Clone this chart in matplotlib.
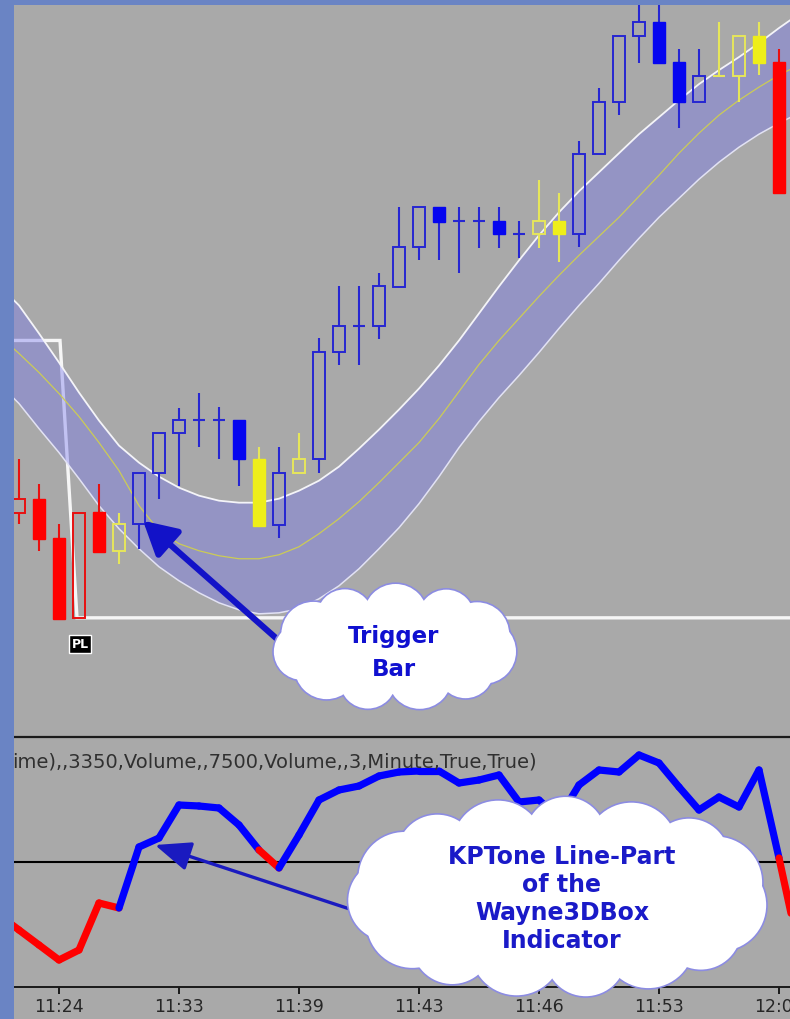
import matplotlib
matplotlib.use('Agg')
import matplotlib.pyplot as plt
import numpy as np
from matplotlib.patches import Rectangle, Circle, Ellipse
from matplotlib.collections import LineCollection

W, H = 790, 1019

# ---------------- data ----------------
bar_idx = list(range(39))
opens  = [228, 242, 203, 123, 229, 190, 217, 268, 308, 321, 321, 321, 282, 216, 268, 282, 388, 414, 414, 453,
          493, 533, 519, 519, 519, 506, 506, 519, 506, 586, 638, 704, 718, 678, 638, 664, 664, 704, 678]
closes = [242, 202, 122, 228, 189, 217, 268, 308, 321, 321, 321, 282, 215, 268, 282, 388, 414, 414, 454, 493,
          533, 518, 519, 519, 506, 506, 519, 506, 586, 638, 704, 718, 677, 638, 664, 664, 704, 677, 547]
highs  = [282, 257, 217, 228, 257, 228, 268, 308, 333, 348, 334, 321, 294, 294, 308, 402, 454, 454, 467, 533,
          533, 533, 533, 533, 533, 519, 560, 547, 599, 652, 704, 745, 745, 691, 691, 718, 704, 718, 691]
lows   = [217, 190, 122, 123, 189, 177, 192, 242, 255, 294, 282, 255, 215, 203, 268, 268, 375, 375, 401, 453,
          480, 480, 467, 492, 492, 482, 492, 478, 493, 586, 625, 677, 677, 612, 638, 664, 638, 665, 547]
bar_colors = ['r', 'r', 'r', 'r', 'r', 'y', 'b', 'b', 'b', 'b', 'b', 'b', 'y', 'b', 'y', 'b', 'b', 'b', 'b', 'b',
              'b', 'b', 'b', 'b', 'b', 'b', 'y', 'y', 'b', 'b', 'b', 'b', 'b', 'b', 'b', 'y', 'y', 'y', 'r']

band_idx = list(range(-1, 40))
band_upper = [455, 435, 407, 378, 348, 320, 295, 278, 264, 253, 245, 240, 238, 238, 242, 250, 260, 274, 292, 311,
              331, 352, 375, 400, 427, 454, 480, 505, 528, 549, 568, 587, 606, 623, 640, 656, 670, 683, 697, 712, 726]
band_center = [405, 387, 368, 347, 324, 298, 270, 235, 210, 197, 190, 185, 182, 182, 186, 194, 207, 222, 239, 258,
               278, 298, 322, 349, 376, 400, 422, 444, 465, 485, 504, 523, 544, 565, 587, 607, 625, 640, 653, 665, 675]
band_lower = [357, 337, 312, 288, 262, 235, 212, 192, 174, 160, 148, 138, 131, 127, 128, 132, 142, 155, 172, 192,
              213, 237, 264, 293, 319, 343, 365, 388, 412, 435, 457, 480, 502, 523, 542, 561, 578, 593, 606, 617, 627]

pl_x = [-1, 2.05, 2.9, 39]
pl_level = [400, 400, 123, 123]

kp_idx = list(range(-1, 40))
kptone = [-53, -68, -83, -98, -88, -41, -46, 15, 24, 57, 56, 54, 37, 12, -6, 27, 62, 72, 76, 86,
          90, 91, 91, 79, 82, 87, 60, 62, 44, 77, 92, 90, 107, 99, 75, 52, 65, 55, 92, 4, -88]
kp_state = ['r', 'r', 'r', 'r', 'r', 'r', 'r', 'b', 'b', 'b', 'b', 'b', 'b', 'b', 'r', 'b', 'b', 'b', 'b', 'b',
            'b', 'b', 'b', 'b', 'b', 'b', 'b', 'b', 'b', 'b', 'b', 'b', 'b', 'b', 'b', 'b', 'b', 'b', 'b', 'b', 'r']

tick_bars = [2, 8, 14, 20, 26, 32, 38]
tick_labels = ['11:24', '11:33', '11:39', '11:43', '11:46', '11:53', '12:00']
params_text = 'ime),,3350,Volume,,7500,Volume,,3,Minute,True,True)'

# ---------------- figure ----------------
GRAY = '#a9a9a9'
fig = plt.figure(figsize=(W / 100, H / 100), dpi=100, facecolor=GRAY)

def fx(px):
    return px / W

def fy(py):
    return 1 - py / H

x_lo, x_hi = -0.25, 38.55
ax = fig.add_axes([fx(14), fy(737), fx(790) - fx(14), fy(5) - fy(737)])
axb = fig.add_axes([fx(14), fy(987), fx(790) - fx(14), fy(737) - fy(987)])
for a in (ax, axb):
    a.set_facecolor(GRAY)
    a.set_xlim(x_lo, x_hi)
    for s in a.spines.values():
        s.set_visible(False)

ax.set_ylim(4, 735)
ax.set_xticks([])
ax.set_yticks([])

# PL level line (below band)
ax.plot(pl_x, pl_level, color='white', lw=2.4, alpha=0.9, zorder=1, solid_joinstyle='miter')

# band
ax.fill_between(band_idx, band_lower, band_upper, color='#7676ee', alpha=0.4, lw=0, zorder=2)
ax.plot(band_idx, band_upper, color='#f4f4f8', lw=1.3, zorder=3)
ax.plot(band_idx, band_lower, color='#e2e2f4', lw=1.1, zorder=3)
ax.plot(band_idx, band_center, color='#cccc55', lw=0.9, zorder=3)

# candles
edge_col = {'b': '#2626d2', 'y': '#e6e65a', 'r': '#e81010'}
fill_col = {'b': '#0505f0', 'y': '#eeee1a', 'r': '#ff0000'}
bw = 0.6
for i, o, c, h, l, k in zip(bar_idx, opens, closes, highs, lows, bar_colors):
    top, bot = max(o, c), min(o, c)
    ec = edge_col[k]
    if h > top:
        ax.plot([i, i], [top, h], color=ec, lw=1.5, zorder=5, solid_capstyle='butt')
    if l < bot:
        ax.plot([i, i], [l, bot], color=ec, lw=1.5, zorder=5, solid_capstyle='butt')
    if o == c:
        ax.plot([i - bw / 2, i + bw / 2], [o, o], color=ec, lw=1.5, zorder=5, solid_capstyle='butt')
    elif c > o:
        ax.add_patch(Rectangle((i - bw / 2, bot), bw, top - bot, fill=False, ec=ec, lw=1.4, zorder=5))
    else:
        ax.add_patch(Rectangle((i - bw / 2, bot), bw, top - bot, fc=fill_col[k], ec=fill_col[k], lw=1.0, zorder=5))

# ---------------- lower panel ----------------
axb.set_ylim(-125, 125)
axb.set_yticks([])
axb.spines['top'].set_visible(True)
axb.spines['top'].set_color('#1a1a1a')
axb.spines['top'].set_linewidth(1.6)
axb.spines['bottom'].set_visible(True)
axb.spines['bottom'].set_color('#1a1a1a')
axb.spines['bottom'].set_linewidth(1.4)
axb.axhline(0, color='black', lw=1.5, zorder=2)

kp_col = {'r': '#ff0000', 'b': '#0000ff'}
segs = [[(kp_idx[j - 1], kptone[j - 1]), (kp_idx[j], kptone[j])] for j in range(1, len(kp_idx))]
cols = [kp_col[kp_state[j]] for j in range(1, len(kp_idx))]
lc = LineCollection(segs, colors=cols, linewidths=5.2, capstyle='round', joinstyle='round', zorder=4)
axb.add_collection(lc)

axb.set_xticks(tick_bars)
axb.set_xticklabels(tick_labels, fontsize=12.5, color='#262626')
axb.tick_params(axis='x', direction='out', length=5, width=1.4, color='#1a1a1a', pad=3)
axb.text(-0.003, 0.9, params_text, transform=axb.transAxes, fontsize=14, color='#303030',
         ha='left', va='center', clip_on=True, zorder=5)

# ---------------- overlay (annotations) ----------------
ov = fig.add_axes([0, 0, 1, 1], zorder=20)
ov.set_xlim(0, W)
ov.set_ylim(H, 0)
ov.axis('off')
ov.patch.set_alpha(0)

# blue frame
ov.add_patch(Rectangle((0, 0), 14, H, fc='#6a84c4', ec='none', zorder=1))
ov.add_patch(Rectangle((0, 0), W, 5, fc='#6a84c4', ec='none', zorder=1))

def cloud(cx, cy, rx, ry, n, rb, z):
    t = np.linspace(0, 2 * np.pi, n, endpoint=False) + 0.15
    radii = [rb * (1.0 if j % 2 == 0 else 0.88) for j in range(n)]
    pts = [(cx + (rx - r) * np.cos(a), cy + (ry - r) * np.sin(a)) for a, r in zip(t, radii)]
    for (px, py), r in zip(pts, radii):
        ov.add_patch(Circle((px, py), r, fc='white', ec='#8c8ce2', lw=2.4, zorder=z))
    for (px, py), r in zip(pts, radii):
        ov.add_patch(Circle((px, py), r, fc='white', ec='none', zorder=z + 1))
    ov.add_patch(Ellipse((cx, cy), 2 * (rx - rb * 0.5), 2 * (ry - rb * 0.5), fc='white', ec='none', zorder=z + 1))

# arrows (tips anchored to the data)
ov.annotate('', xy=(6.2, 220), xycoords=ax.transData, xytext=(285, 646), textcoords='data',
            arrowprops=dict(arrowstyle='-|>,head_length=1.0,head_width=0.55', lw=4.4, color='#1212c8',
                            shrinkA=0, shrinkB=0, mutation_scale=20), zorder=5)
ov.annotate('', xy=(6.8, 17), xycoords=axb.transData, xytext=(368, 915), textcoords='data',
            arrowprops=dict(arrowstyle='-|>,head_length=1.1,head_width=0.45', lw=2.4, color='#1a1ac0',
                            shrinkA=0, shrinkB=0, mutation_scale=20), zorder=5)

cloud(395, 647, 122, 63, 11, 32, 10)
cloud(558, 897, 210, 100, 15, 46, 10)

ov.text(394, 637, 'Trigger', fontsize=16.5, fontweight='bold', color='#1010d0', ha='center', va='center', zorder=15)
ov.text(394, 669, 'Bar', fontsize=16.5, fontweight='bold', color='#1010d0', ha='center', va='center', zorder=15)
for yy, s in zip([857, 885, 913, 941], ['KPTone Line-Part', 'of the', 'Wayne3DBox', 'Indicator']):
    ov.text(562, yy, s, fontsize=17, fontweight='bold', color='#1a1ac8', ha='center', va='center', zorder=15)

ov.text(80, 644, 'PL', fontsize=9, fontweight='bold', color='white', ha='center', va='center', zorder=15,
        bbox=dict(boxstyle='square,pad=0.2', fc='black', ec='white', lw=1))

fig.savefig('out.png', dpi=100, facecolor=GRAY)
